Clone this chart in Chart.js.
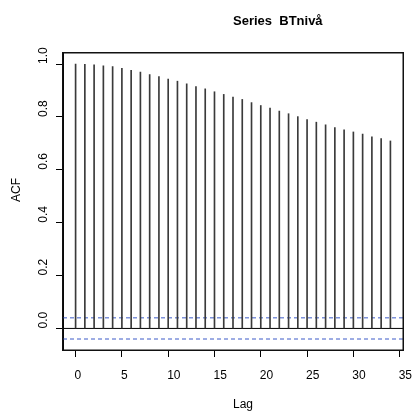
<!DOCTYPE html>
<html lang="en">
<head>
    <meta charset="UTF-8">
    <title>Series BTnivå</title>
    <script src="https://cdnjs.cloudflare.com/ajax/libs/Chart.js/4.4.1/chart.umd.min.js"></script>
    <style>
        html, body { margin: 0; padding: 0; background: #fff; }
        #wrap { width: 416px; height: 414px; }
    </style>
</head>
<body>
    <div id="wrap"><canvas id="acfChart" width="416" height="414"></canvas></div>

    <script>
        // data
        const lags = [0, 1, 2, 3, 4, 5, 6, 7, 8, 9, 10, 11, 12, 13, 14, 15, 16,
                      17, 18, 19, 20, 21, 22, 23, 24, 25, 26, 27, 28, 29, 30, 31, 32, 33, 34];
        const acfValues = [1.000, 0.999, 0.997, 0.993, 0.990, 0.984, 0.976, 0.969, 0.960, 0.952,
                           0.943, 0.935, 0.925, 0.915, 0.906, 0.895, 0.885, 0.875, 0.866, 0.854,
                           0.843, 0.833, 0.822, 0.812, 0.801, 0.790, 0.780, 0.770, 0.760, 0.751,
                           0.743, 0.735, 0.725, 0.718, 0.709];
        const ciBounds = [0.04, -0.04];
        const xTicks = [0, 5, 10, 15, 20, 25, 30, 35];
        const yTicks = [0.0, 0.2, 0.4, 0.6, 0.8, 1.0];
        const xRange = [-1.36, 35.36];
        const yRange = [-0.0816, 1.0416];

        const titleText = 'Series  BTnivå';
        const xTitle = 'Lag';
        const yTitle = 'ACF';

        const font = '"Liberation Sans", Arial, Helvetica, sans-serif';

        // box round the plot, tick labels and titles placed like R does
        const rStyle = {
            id: 'rStyle',
            afterDraw(chart) {
                const c = chart.ctx;
                const a = chart.chartArea;
                const xs = chart.scales.x;
                const ys = chart.scales.y;
                c.save();
                c.fillStyle = '#111';
                c.fillRect(a.left - 1, a.top - 1, a.right - a.left + 2, 1.5);
                c.fillRect(a.right - 0.5, a.top - 1, 1.5, a.bottom - a.top + 2);
                c.fillRect(a.left - 1, a.top - 1, 1.5, a.bottom - a.top + 2);
                c.fillRect(a.left - 1, a.bottom - 0.5, a.right - a.left + 2, 1.5);

                c.fillStyle = '#000';
                c.textAlign = 'left';
                c.textBaseline = 'alphabetic';

                c.font = 'bold 13px ' + font;
                c.fillText(titleText, 233, 25);

                c.font = '12px ' + font;
                xTicks.forEach(v => {
                    c.fillText(String(v), xs.getPixelForValue(v) - 1, 379);
                });
                c.fillText(xTitle, 233, 408);

                yTicks.forEach(v => {
                    c.save();
                    c.translate(47, ys.getPixelForValue(v));
                    c.rotate(-Math.PI / 2);
                    c.fillText(v.toFixed(1), 0, 0);
                    c.restore();
                });
                c.save();
                c.translate(20, 202);
                c.rotate(-Math.PI / 2);
                c.fillText(yTitle, 0, 0);
                c.restore();
                c.restore();
            }
        };

        const chart = new Chart(document.getElementById('acfChart'), {
            data: {
                datasets: [
                    {
                        type: 'bar',
                        data: lags.map((l, i) => ({ x: l, y: acfValues[i] })),
                        backgroundColor: '#3a3a3a',
                        barThickness: 1,
                        borderWidth: 0
                    },
                    {
                        type: 'line',
                        data: [{ x: xRange[0], y: 0 }, { x: xRange[1], y: 0 }],
                        borderColor: '#000',
                        borderWidth: 1,
                        pointRadius: 0,
                        fill: false
                    },
                    ...ciBounds.map(b => ({
                        type: 'line',
                        data: [{ x: xRange[0], y: b }, { x: xRange[1], y: b }],
                        borderColor: 'rgb(60, 90, 200)',
                        borderWidth: 1,
                        borderDash: [4, 3],
                        pointRadius: 0,
                        fill: false
                    }))
                ]
            },
            options: {
                responsive: false,
                animation: false,
                layout: { padding: { top: 53, right: 13, left: 0, bottom: 0 } },
                plugins: {
                    legend: { display: false },
                    title: { display: false },
                    tooltip: { enabled: false }
                },
                scales: {
                    x: {
                        type: 'linear',
                        offset: false,
                        min: xRange[0],
                        max: xRange[1],
                        afterBuildTicks: s => { s.ticks = xTicks.map(v => ({ value: v })); },
                        afterFit: s => { s.height = 64; },
                        ticks: { display: false },
                        grid: { display: true, offset: false, drawOnChartArea: false, drawTicks: true, tickLength: 7, color: '#000', lineWidth: 1 },
                        border: { display: true, color: '#000', width: 1 }
                    },
                    y: {
                        type: 'linear',
                        min: yRange[0],
                        max: yRange[1],
                        afterBuildTicks: s => { s.ticks = yTicks.map(v => ({ value: v })); },
                        afterFit: s => { s.width = 63; },
                        ticks: { display: false },
                        grid: { display: true, drawOnChartArea: false, drawTicks: true, tickLength: 7, color: '#000', lineWidth: 1 },
                        border: { display: true, color: '#000', width: 1 }
                    }
                }
            },
            plugins: [rStyle]
        });
    </script>
</body>
</html>
